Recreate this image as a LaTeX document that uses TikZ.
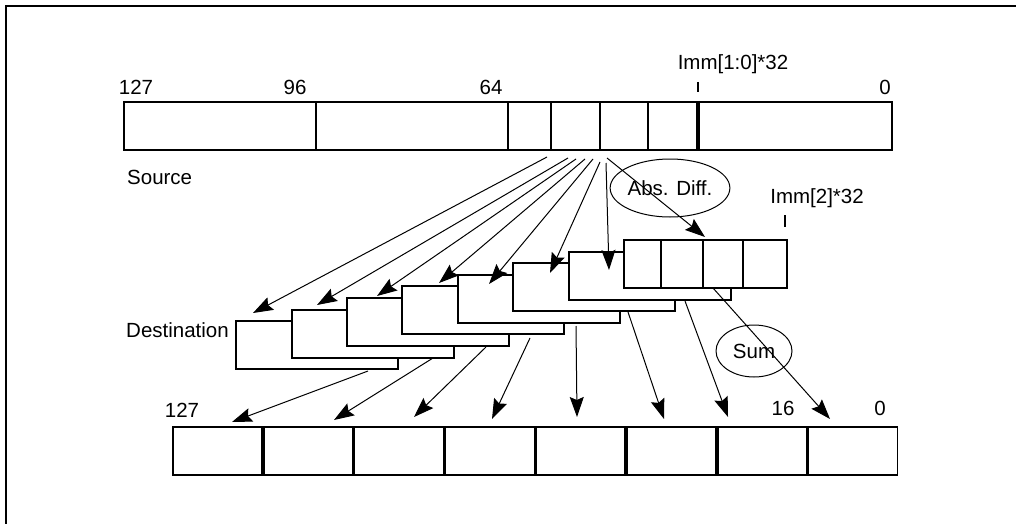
\documentclass[tikz,border=0pt]{standalone}
\usepackage{fontspec}
\setmainfont{Liberation Sans}
\usetikzlibrary{arrows.meta,shapes.geometric}

\tikzset{
  cell/.style={draw,line width=1.7pt,fill=white,inner sep=0pt,minimum height=48},
  lbl/.style={inner sep=0pt,font=\fontsize{20.5}{24}\selectfont},
  fan/.style={line width=1pt,-{Stealth[length=20pt,width=14pt,inset=3pt]}},
  oval/.style={draw,ellipse,line width=1pt,inner sep=0pt,font=\fontsize{20.5}{24}\selectfont}
}

\begin{document}
\begin{tikzpicture}[x=1pt,y=1pt,yscale=-1,xscale=1]
\clip (0,0) rectangle (1016,524);

%Shape: Frame
\draw [line width=2pt] (6,6) rectangle (1040,540);

%Shape: Source register
\node [cell,minimum width=192,anchor=north west] (src1) at (123,101) {};
\node [cell,minimum width=192,anchor=north west] (src2) at (315,101) {};
\node [cell,minimum width=43,anchor=north west] (src3) at (507,101) {};
\node [cell,minimum width=49,anchor=north west] (src4) at (550,101) {};
\node [cell,minimum width=48,anchor=north west] (src5) at (599,101) {};
\node [cell,minimum width=51,anchor=north west] (src6) at (647,101) {};
\node [cell,minimum width=193,anchor=north west] (src7) at (698,101) {};
\draw [line width=3.2pt] (src7.north west) -- (src7.south west) ;
%Straight Lines: Imm[1:0] tick
\coordinate (imm1) at (698,82) ;
\draw [line width=1.7pt] (imm1) -- ++(0,10) ;

% Text Node
\node [lbl,anchor=base] (s127) at (136,95) {127};
\node [lbl,anchor=base] (s96) at (295,95) {96};
\node [lbl,anchor=base] (s64) at (491,95) {64};
\node [lbl,anchor=base] (s0) at (885,95) {0};
\node [lbl,anchor=base] (simm) at (733,70) {Imm[1:0]*32};
\node [lbl,anchor=base west] (source) at (127,184) {Source};

%Shape: Destination boxes
\node [cell,minimum width=162,anchor=north west] (dst1) at (235,320) {};
\node [cell,minimum width=162,anchor=north west] (dst2) at (291,309) {};
\node [cell,minimum width=162,anchor=north west] (dst3) at (346,297) {};
\node [cell,minimum width=162,anchor=north west] (dst4) at (401,285) {};
\node [cell,minimum width=162,anchor=north west] (dst5) at (457,274) {};
\node [cell,minimum width=162,anchor=north west] (dst6) at (512,262) {};
\node [cell,minimum width=162,anchor=north west] (dst7) at (568,251) {};
\node [cell,minimum width=37,anchor=north west] (dst8a) at (623,239) {};
\node [cell,minimum width=42,anchor=north west] (dst8b) at (660,239) {};
\node [cell,minimum width=40,anchor=north west] (dst8c) at (702,239) {};
\node [cell,minimum width=44,anchor=north west] (dst8d) at (742,239) {};
%Straight Lines: Imm[2] tick
\coordinate (imm2) at (785,215) ;
\draw [line width=1.7pt] (imm2) -- ++(0,12) ;

% Text Node
\node [lbl,anchor=base east] (dest) at (229,337) {Destination};
\node [lbl,anchor=base] (dimm) at (817,203) {Imm[2]*32};

%Shape: Ellipses
\node [oval,minimum width=96,minimum height=58] (absdiff) at (670,188) {Abs. Diff.};
\node [oval,minimum width=76,minimum height=52] (sum) at (754,351) {Sum};

%Shape: Result register
\node [cell,minimum width=89.1,anchor=north west] (res1) at (172,426) {};
\node [cell,minimum width=89.1,anchor=north west] (res2) at (res1.north east) {};
\node [cell,minimum width=89.1,anchor=north west] (res3) at (res2.north east) {};
\node [cell,minimum width=89.1,anchor=north west] (res4) at (res3.north east) {};
\node [cell,minimum width=89.1,anchor=north west] (res5) at (res4.north east) {};
\node [cell,minimum width=89.1,anchor=north west] (res6) at (res5.north east) {};
\node [cell,minimum width=89.1,anchor=north west] (res7) at (res6.north east) {};
\node [cell,minimum width=89.1,anchor=north west] (res8) at (res7.north east) {};

% Text Node
\node [lbl,anchor=base] (r127) at (182,417) {127};
\node [lbl,anchor=base] (r16) at (783,415) {16};
\node [lbl,anchor=base] (r0) at (880,415) {0};

%Straight Lines: source to destination
\coordinate (a1) at (547,157) ; \coordinate (p1) at (253,313) ;
\coordinate (a2) at (568,158) ; \coordinate (p2) at (317,305) ;
\coordinate (a3) at (576,159) ; \coordinate (p3) at (377,296) ;
\coordinate (a4) at (585,159) ; \coordinate (p4) at (439,283) ;
\coordinate (a5) at (593,159) ; \coordinate (p5) at (489,284) ;
\coordinate (a6) at (600,162) ; \coordinate (p6) at (550,273) ;
\coordinate (a7) at (606,163) ; \coordinate (p7) at (609,270) ;
\coordinate (a8) at (607,158) ; \coordinate (p8) at (705,237) ;
\draw [fan] (a1) -- (p1) ;
\draw [fan] (a2) -- (p2) ;
\draw [fan] (a3) -- (p3) ;
\draw [fan] (a4) -- (p4) ;
\draw [fan] (a5) -- (p5) ;
\draw [fan] (a6) -- (p6) ;
\draw [fan] (a7) -- (p7) ;
\draw [fan] (a8) -- (p8) ;

%Straight Lines: destination to result
\coordinate (b1) at (368,371) ; \coordinate (q1) at (232,422) ;
\coordinate (b2) at (433,358) ; \coordinate (q2) at (334,420) ;
\coordinate (b3) at (486,347) ; \coordinate (q3) at (414,417) ;
\coordinate (b4) at (530,338) ; \coordinate (q4) at (492,419) ;
\coordinate (b5) at (576,326) ; \coordinate (q5) at (577,417) ;
\coordinate (b6) at (628,312) ; \coordinate (q6) at (664,419) ;
\coordinate (b7) at (685,301) ; \coordinate (q7) at (728,417) ;
\coordinate (b8) at (713,288) ; \coordinate (q8) at (830,419) ;
\draw [fan] (b1) -- (q1) ;
\draw [fan] (b2) -- (q2) ;
\draw [fan] (b3) -- (q3) ;
\draw [fan] (b4) -- (q4) ;
\draw [fan] (b5) -- (q5) ;
\draw [fan] (b6) -- (q6) ;
\draw [fan] (b7) -- (q7) ;
\draw [fan] (b8) -- (q8) ;

\end{tikzpicture}
\end{document}
